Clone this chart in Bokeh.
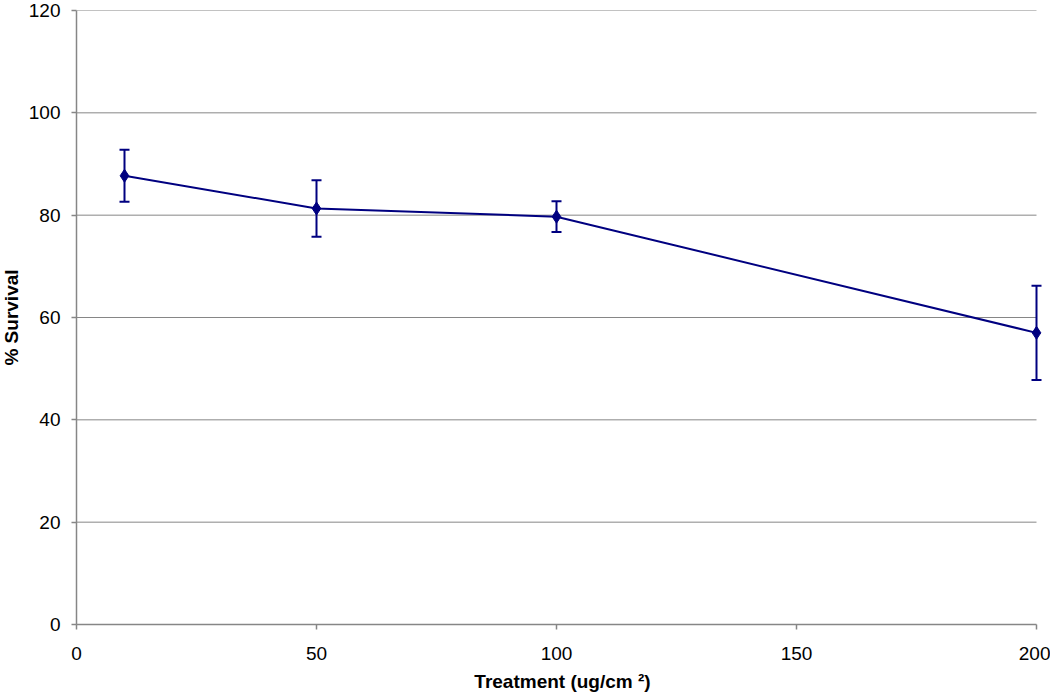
from bokeh.plotting import figure
from bokeh.models import ColumnDataSource, Whisker, Range1d, FixedTicker
from bokeh.embed import file_html
from bokeh.resources import INLINE

# Data
treatment = [10, 50, 100, 200]
survival = [87.7, 81.3, 79.7, 57.0]
error = [5.1, 5.5, 3.0, 9.2]
x_ticks = [0, 50, 100, 150, 200]
y_ticks = [0, 20, 40, 60, 80, 100, 120]
x_max = 200
y_max = 120

upper = [s + e for s, e in zip(survival, error)]
lower = [s - e for s, e in zip(survival, error)]
src = ColumnDataSource(data=dict(x=treatment, y=survival, upper=upper, lower=lower))
grid_src = ColumnDataSource(data=dict(
    x0=[0] * (len(y_ticks) - 1), x1=[x_max] * (len(y_ticks) - 1), y=y_ticks[1:]))

FONT = "Liberation Sans"
NAVY = "#000080"
GRAY = "#868686"

# frame 972 px wide; 200 units span 960 px so the last point is not clipped
p = figure(width=1058, height=706, output_backend="svg", toolbar_location=None,
           x_range=Range1d(0, x_max * 972 / 960), y_range=Range1d(0, y_max),
           min_border_left=84, min_border_right=2, min_border_top=18, min_border_bottom=74)
p.styles = {"margin-top": "-8px", "margin-left": "-8px"}
p.outline_line_color = None
p.background_fill_color = "white"
p.border_fill_color = "white"

p.xgrid.grid_line_color = None
p.ygrid.grid_line_color = None
p.segment(x0="x0", x1="x1", y0="y", y1="y", source=grid_src,
          line_color=GRAY, line_width=1, level="underlay")

p.xaxis.ticker = FixedTicker(ticks=x_ticks)
p.yaxis.ticker = FixedTicker(ticks=y_ticks)
p.xaxis.bounds = (0, x_max)
for ax in (p.xaxis, p.yaxis):
    ax.axis_line_color = GRAY
    ax.axis_line_width = 1.5
    ax.major_tick_line_color = GRAY
    ax.major_tick_line_width = 1.5
    ax.major_tick_out = 5
    ax.major_tick_in = 0
    ax.minor_tick_line_color = None
    ax.major_label_text_font = FONT
    ax.major_label_text_font_size = "19px"
    ax.major_label_text_color = "black"
    ax.axis_label_text_font = FONT
    ax.axis_label_text_font_size = "19px"
    ax.axis_label_text_font_style = "bold"
    ax.axis_label_text_color = "black"

p.xaxis.axis_label = "Treatment (ug/cm ²)"
p.yaxis.axis_label = "% Survival"
p.xaxis.major_label_standoff = 17
p.yaxis.major_label_standoff = 11
p.xaxis.axis_label_standoff = 8
p.yaxis.axis_label_standoff = 4

p.line("x", "y", source=src, line_color=NAVY, line_width=2)
w = Whisker(base="x", upper="upper", lower="lower", source=src,
            line_color=NAVY, line_width=2)
for head in (w.upper_head, w.lower_head):
    head.size = 10
    head.line_color = NAVY
    head.line_width = 2
p.add_layout(w)
p.scatter("x", "y", source=src, marker="diamond", size=13,
          fill_color=NAVY, line_color=NAVY)

open("out.html", "w").write(file_html(p, INLINE))
